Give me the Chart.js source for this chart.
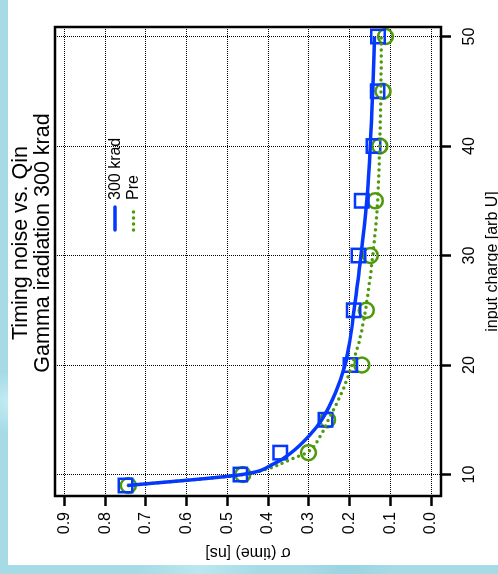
<!DOCTYPE html>
<html>
<head>
<meta charset="utf-8">
<script src="https://cdn.jsdelivr.net/npm/chart.js@4.4.1/dist/chart.umd.min.js"></script>
<style>
  html, body { margin: 0; padding: 0; }
  body {
    width: 498px; height: 574px; overflow: hidden; position: relative;
    background-color: #a6dbe5;
    background-image:
      radial-gradient(circle at 20% 30%, rgba(220,245,250,0.8) 0, rgba(220,245,250,0) 40px),
      radial-gradient(circle at 70% 95%, rgba(140,205,220,0.8) 0, rgba(140,205,220,0) 50px),
      radial-gradient(circle at 2% 70%, rgba(200,238,245,0.9) 0, rgba(200,238,245,0) 30px),
      radial-gradient(circle at 40% 99%, rgba(190,232,240,0.9) 0, rgba(190,232,240,0) 60px);
  }
  #paper { position: absolute; left: 8px; top: 0; width: 490px; height: 565px; background: #fff; }
  #chart {
    position: absolute; left: 0; top: 0;
    transform-origin: 0 0;
    transform: translateY(574px) rotate(-90deg);
  }
</style>
</head>
<body>
<div id="paper"></div>
<canvas id="chart" width="574" height="498"></canvas>
<script>
// measured points
const charge = [9, 10, 12, 15, 20, 25, 30, 35, 40, 45, 50];
const sigma300 = [0.750, 0.468, 0.370, 0.259, 0.198, 0.190, 0.178, 0.170, 0.141, 0.131, 0.130];
const sigmaPre = [0.743, 0.462, 0.301, 0.254, 0.170, 0.159, 0.149, 0.137, 0.126, 0.118, 0.112];

// fitted curves
const fitCharge300 = [9, 10, 11, 12, 13.5, 15, 17.5, 20, 22.5, 25, 30, 35, 40, 45, 50];
const fit300 = [0.745, 0.464, 0.385, 0.343, 0.300, 0.268, 0.234, 0.211, 0.198, 0.189, 0.172, 0.158, 0.149, 0.143, 0.139];
const fitChargePre = [9, 10, 10.5, 11.5, 12, 13.5, 15, 17.5, 20, 22.5, 25, 30, 35, 40, 45, 50];
const fitPre = [0.743, 0.460, 0.403, 0.337, 0.305, 0.272, 0.252, 0.219, 0.194, 0.174, 0.161, 0.143, 0.131, 0.126, 0.123, 0.122];

const xTicks = [10, 20, 30, 40, 50];
const yTicks = [0, 0.1, 0.2, 0.3, 0.4, 0.5, 0.6, 0.7, 0.8, 0.9];

const titleLines = ["Timing noise vs. Qin", "Gamma iradiation 300 krad"];
const seriesNames = ["300 krad", "Pre"];

const BLUE = "#0538ff";
const GREEN = "#4f9a0c";
const FONT = "'Liberation Sans', Arial, sans-serif";

Chart.defaults.font.family = FONT;
Chart.defaults.color = "#000";

const pts = (xs, ys) => xs.map((x, i) => ({ x: x, y: ys[i] }));

// frame, title and legend drawn in the R style
const rPlot = {
  id: "rPlot",
  afterDraw(chart) {
    const ctx = chart.ctx;
    const a = chart.chartArea;
    ctx.save();
    ctx.strokeStyle = "#000";
    ctx.lineWidth = 2.5;
    ctx.strokeRect(a.left, a.top, a.right - a.left, a.bottom - a.top);

    ctx.fillStyle = "#000";
    ctx.font = "21.5px " + FONT;
    ctx.textAlign = "center";
    ctx.textBaseline = "middle";
    ctx.fillText(titleLines[0], 331, 21);
    ctx.fillText(titleLines[1], 331, 43);

    // legend
    ctx.font = "16px " + FONT;
    ctx.textAlign = "left";
    ctx.lineCap = "round";
    ctx.strokeStyle = BLUE;
    ctx.lineWidth = 3.5;
    ctx.beginPath();
    ctx.moveTo(344, 115); ctx.lineTo(367, 115);
    ctx.stroke();
    ctx.strokeStyle = GREEN;
    ctx.setLineDash([0, 6]);
    ctx.beginPath();
    ctx.moveTo(344, 133.5); ctx.lineTo(367, 133.5);
    ctx.stroke();
    ctx.setLineDash([]);
    ctx.fillText(seriesNames[0], 374, 116);
    ctx.fillText(seriesNames[1], 374, 134);
    ctx.restore();
  }
};

const gridOpts = {
  color: "#000",
  lineWidth: 1,
  drawTicks: true,
  tickLength: 10,
  tickColor: "#000",
  tickWidth: 2.5,
  tickBorderDash: []
};
const borderOpts = { display: false, dash: [1, 1] };

new Chart(document.getElementById("chart"), {
  type: "scatter",
  data: {
    datasets: [
      {
        label: seriesNames[0] + " fit",
        type: "line",
        data: pts(fitCharge300, fit300),
        borderColor: BLUE,
        borderWidth: 3.5,
        pointRadius: 0,
        cubicInterpolationMode: "monotone",
        order: 1
      },
      {
        label: seriesNames[1] + " fit",
        type: "line",
        data: pts(fitChargePre, fitPre),
        borderColor: GREEN,
        borderWidth: 3.5,
        borderDash: [0, 6],
        borderCapStyle: "round",
        pointRadius: 0,
        cubicInterpolationMode: "monotone",
        order: 2
      },
      {
        label: seriesNames[0],
        data: pts(charge, sigma300),
        pointStyle: "rect",
        pointRadius: 9.5,
        borderColor: BLUE,
        backgroundColor: "rgba(0,0,0,0)",
        borderWidth: 2.5,
        order: 3
      },
      {
        label: seriesNames[1],
        data: pts(charge, sigmaPre),
        pointStyle: "circle",
        pointRadius: 7.5,
        borderColor: GREEN,
        backgroundColor: "rgba(0,0,0,0)",
        borderWidth: 2.5,
        order: 4
      }
    ]
  },
  options: {
    responsive: false,
    animation: false,
    devicePixelRatio: 1,
    layout: { padding: { top: 55, right: 27, left: 0, bottom: 0 } },
    plugins: { legend: { display: false }, tooltip: { enabled: false } },
    scales: {
      x: {
        type: "linear",
        min: 8.04,
        max: 50.87,
        afterBuildTicks: s => { s.ticks = xTicks.map(v => ({ value: v })); },
        afterFit: s => { s.height = 57; },
        grid: gridOpts,
        border: borderOpts,
        ticks: { font: { size: 16 }, padding: 9, maxRotation: 0 },
        title: { display: true, text: "input charge [arb U]", font: { size: 16 }, padding: { top: 0, bottom: -4 } }
      },
      y: {
        type: "linear",
        min: -0.0245,
        max: 0.923,
        afterBuildTicks: s => { s.ticks = yTicks.map(v => ({ value: v })); },
        afterFit: s => { s.width = 78; },
        grid: gridOpts,
        border: borderOpts,
        ticks: { font: { size: 16 }, padding: 6, callback: v => v.toFixed(1) },
        title: { display: true, text: "σ (time) [ns]", font: { size: 16 }, padding: { top: 12, bottom: 0 } }
      }
    }
  },
  plugins: [rPlot]
});
</script>
</body>
</html>
